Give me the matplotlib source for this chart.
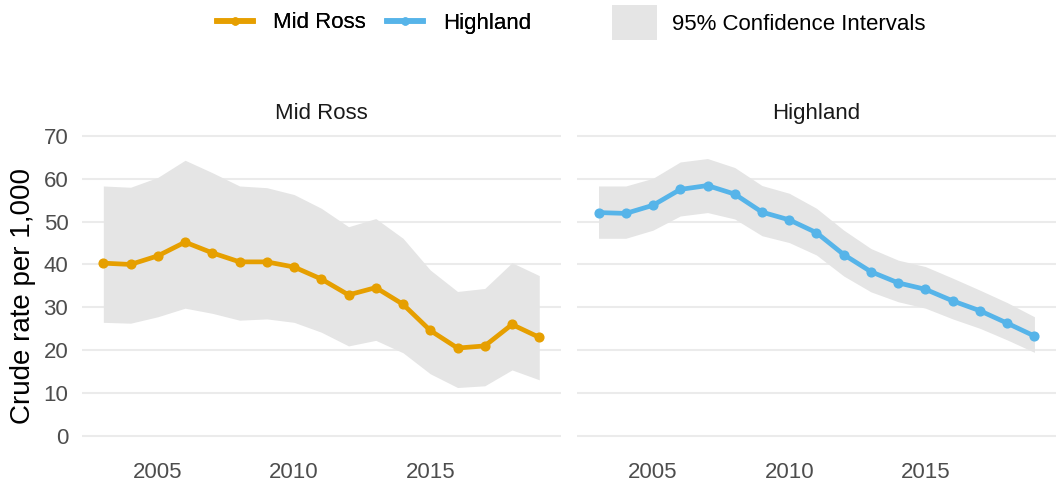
import matplotlib
matplotlib.use('Agg')
import matplotlib.pyplot as plt
from matplotlib.lines import Line2D
from matplotlib.patches import Patch

plt.rcParams['font.family'] = ['Liberation Sans', 'DejaVu Sans']

# Datos
years = [2003, 2004, 2005, 2006, 2007, 2008, 2009, 2010, 2011,
         2012, 2013, 2014, 2015, 2016, 2017, 2018, 2019]

mid_ross = [40.3, 40.0, 42.0, 45.2, 42.7, 40.6, 40.6, 39.4, 36.6,
            32.9, 34.6, 30.7, 24.6, 20.5, 21.0, 26.0, 23.0]
mid_ross_hi = [58.3, 58.0, 60.3, 64.3, 61.4, 58.3, 57.9, 56.3, 53.1,
               48.8, 50.7, 46.1, 38.7, 33.7, 34.4, 40.4, 37.4]
mid_ross_lo = [26.5, 26.3, 27.8, 29.8, 28.6, 27.0, 27.3, 26.5, 24.2,
               21.0, 22.3, 19.4, 14.5, 11.3, 11.7, 15.4, 13.1]

highland = [52.1, 51.9, 53.8, 57.5, 58.4, 56.4, 52.2, 50.4, 47.4,
            42.3, 38.3, 35.7, 34.2, 31.5, 29.2, 26.3, 23.3]
highland_hi = [58.3, 58.3, 60.1, 63.9, 64.7, 62.6, 58.4, 56.6, 53.1,
               48.0, 43.7, 41.0, 39.5, 36.8, 34.0, 31.1, 27.8]
highland_lo = [46.1, 46.1, 48.0, 51.3, 52.1, 50.6, 46.7, 45.1, 42.2,
               37.3, 33.6, 31.3, 29.8, 27.3, 25.1, 22.4, 19.5]

panels = ['Mid Ross', 'Highland']
colors = ['#E69F00', '#56B4E9']
y_ticks = [0, 10, 20, 30, 40, 50, 60, 70]
x_ticks = [2005, 2010, 2015]

series = [(mid_ross, mid_ross_lo, mid_ross_hi),
          (highland, highland_lo, highland_hi)]

fig = plt.figure(figsize=(10.59, 4.83), dpi=100)
ax_left = fig.add_axes([0.0770, 0.0663, 0.4528, 0.6836])
ax_right = fig.add_axes([0.5446, 0.0663, 0.4528, 0.6836])

for ax, name, color, (vals, lo, hi) in zip([ax_left, ax_right], panels, colors, series):
    ax.fill_between(years, lo, hi, color='#e5e5e5', lw=0, zorder=2)
    ax.plot(years, vals, color=color, lw=3.4, marker='o', ms=6.3, zorder=3)
    ax.set_xlim(2002.2, 2019.8)
    ax.set_ylim(-3.5, 73.5)
    ax.set_yticks(y_ticks)
    ax.set_xticks(x_ticks)
    ax.set_axisbelow(True)
    ax.grid(axis='y', color='#ebebeb', lw=1.5, zorder=0)
    ax.grid(axis='x', visible=False)
    for s in ax.spines.values():
        s.set_visible(False)
    ax.tick_params(axis='y', length=0, labelsize=16, labelcolor='#4d4d4d', pad=9.5)
    ax.tick_params(axis='x', length=0, labelsize=16, labelcolor='#4d4d4d', pad=8)
    ax.text(0.5, 1.023, name, transform=ax.transAxes, ha='center', va='center',
            fontsize=16, color='#1a1a1a')

ax_right.tick_params(axis='y', labelleft=False)

fig.text(0.0217, 0.387, 'Crude rate per 1,000', rotation=90, ha='center', va='center',
         fontsize=20, color='black')

# Leyenda
line_handles = [Line2D([0], [0], color=c, lw=4, marker='o', ms=5) for c in colors]
leg1 = fig.legend(line_handles, panels, loc='center left', bbox_to_anchor=(217 / 1059, 1 - 23 / 483),
                  ncol=2, frameon=False, fontsize=16, handlelength=1.62, handletextpad=0.9,
                  columnspacing=0.95, borderpad=0, borderaxespad=0)
fig.add_artist(leg1)
fig.legend([Patch(facecolor='#e5e5e5', edgecolor='none')], ['95% Confidence Intervals'],
           loc='center left', bbox_to_anchor=(612 / 1059, 1 - 22.5 / 483), frameon=False,
           fontsize=16, handlelength=2.03, handleheight=2.03, handletextpad=0.68,
           borderpad=0, borderaxespad=0)

fig.savefig('out.png', dpi=100)
